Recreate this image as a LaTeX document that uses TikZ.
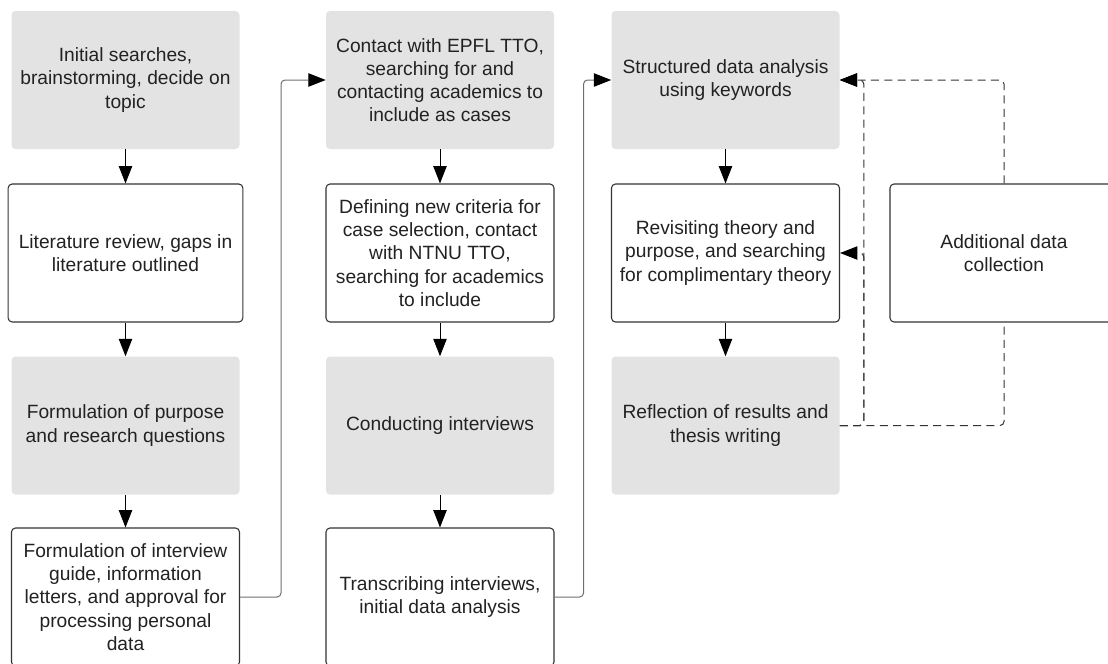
\documentclass[tikz,border=0pt]{standalone}
\usepackage{fontspec}
\setmainfont{Liberation Sans}
\usepackage{xcolor}
\definecolor{phasegrey}{HTML}{E3E3E3}
\definecolor{edgegrey}{HTML}{333333}
\definecolor{routegrey}{HTML}{6E6E6E}
\definecolor{textgrey}{HTML}{222222}
\usetikzlibrary{arrows.meta,positioning}

\begin{document}
\begin{tikzpicture}[
  x=0.75pt, y=-0.75pt,
  every node/.style={font=\fontsize{14.4}{17.4}\selectfont, text=textgrey},
  phase/.style={rectangle, rounded corners=3pt, fill=phasegrey, minimum width=171pt, minimum height=103.5pt, align=center, inner sep=2pt},
  task/.style={phase, draw=edgegrey, fill=white, line width=0.8pt},
  flow/.style={-{Triangle[length=13pt, width=10pt, color=black]}, line width=0.75pt, black},
  route/.style={flow, routegrey, rounded corners=3pt},
  feedback/.style={flow, edgegrey, rounded corners=3pt, dash pattern=on 6pt off 4pt},
]
  \useasboundingbox (0,0) rectangle (1108,664);

  % column 1: preparation
  \node[phase] (initial) at (125.5,80) {Initial searches,\\brainstorming, decide on\\topic};
  \node[task, minimum width=176pt] (litreview) at (125.5,253) {Literature review, gaps in\\literature outlined};
  \node[phase] (purpose) at (125.5,425.5) {Formulation of purpose\\and research questions};
  \node[task] (guide) at (125.5,597) {Formulation of interview\\guide, information\\letters, and approval for\\processing personal\\data};

  % column 2: cases and interviews
  \node[phase] (epfl) at (440,80) {Contact with EPFL TTO,\\searching for and\\contacting academics to\\include as cases};
  \node[task] (ntnu) at (440,253) {Defining new criteria for\\case selection, contact\\with NTNU TTO,\\searching for academics\\to include};
  \node[phase] (interviews) at (440,425.5) {Conducting interviews};
  \node[task] (transcribe) at (440,597) {Transcribing interviews,\\initial data analysis};

  % column 3: analysis and writing
  \node[phase] (analysis) at (725.5,80) {Structured data analysis\\using keywords};
  \node[task] (revisit) at (725.5,253) {Revisiting theory and\\purpose, and searching\\for complimentary theory};
  \node[phase] (reflect) at (725.5,425.5) {Reflection of results and\\thesis writing};

  % extra loop
  \node[task] (extra) at (1004,253) {Additional data\\collection};

  % flow inside the columns
  \draw[flow] (initial.south) -- (litreview.north);
  \draw[flow] (litreview.south) -- (purpose.north);
  \draw[flow] (purpose.south) -- (guide.north);
  \draw[flow] (epfl.south) -- (ntnu.north);
  \draw[flow] (ntnu.south) -- (interviews.north);
  \draw[flow] (interviews.south) -- (transcribe.north);
  \draw[flow] (analysis.south) -- (revisit.north);
  \draw[flow] (revisit.south) -- (reflect.north);

  % links between the columns
  \draw[route] (guide.east) -- ++(41,0) |- (epfl.west);
  \draw[route] (transcribe.east) -- ++(29,0) |- (analysis.west);

  % feedback
  \coordinate[right=18pt of reflect.east] (fbturn);
  \draw[feedback] (reflect.east) -- (fbturn) |- (analysis.east);
  \draw[feedback] (reflect.east) -- (fbturn) |- (revisit.east);
  \draw[feedback, -] (reflect.east) -| (extra.south);
  \draw[feedback] (extra.north) |- (analysis.east);
\end{tikzpicture}
\end{document}
